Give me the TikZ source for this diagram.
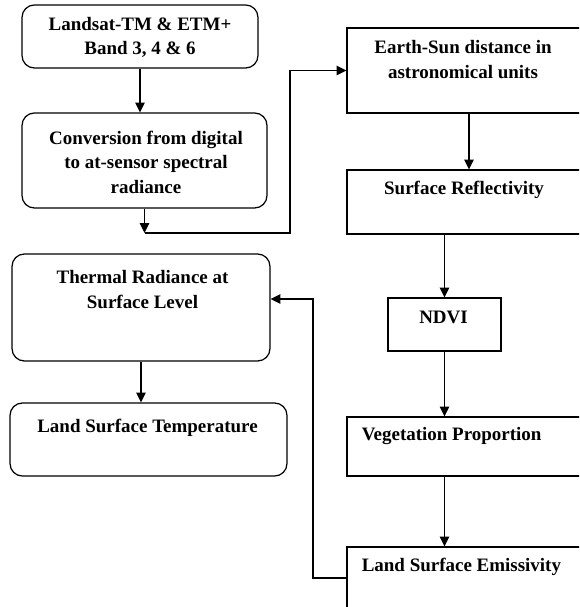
\documentclass[tikz,border=0pt]{standalone}
\usepackage{fontspec}
\setmainfont{Liberation Serif}
\usepackage{tikz}
\usetikzlibrary{arrows.meta, positioning, calc}
\newcommand{\boxfont}{\bfseries\fontsize{10.8}{14.2}\selectfont}

\begin{document}
\begin{tikzpicture}[x=0.02cm, y=-0.02cm,
    >={Triangle[length=5.6pt, width=5.4pt]},
    flowbox/.style={draw, line width=0.7pt, inner sep=0pt},
    roundbox/.style={flowbox, rounded corners=7pt},
    lbl/.style={anchor=center, align=center, font=\boxfont, inner sep=0pt},
    lbll/.style={anchor=west, align=left, font=\boxfont, inner sep=0pt},
    conn/.style={line width=0.65pt, ->}]
    \useasboundingbox (0,0) rectangle (579,607);
    \clip (0,0) rectangle (579,607);

    % left column
    \node[roundbox, minimum width=4.72cm, minimum height=1.26cm,
        label={[lbl, yshift=-0.66cm]north:{Landsat-TM \& ETM+\\Band 3, 4 \& 6}}]
        (land) at (140, 36.5) {};
    \node[roundbox, minimum width=4.9cm, minimum height=1.9cm,
        label={[lbl, yshift=-1.0cm, xshift=0.03cm]north:{Conversion from digital\\to at-sensor spectral\\radiance}}]
        (conv) at (144.5, 160.5) {};
    \node[roundbox, minimum width=5.16cm, minimum height=2.14cm,
        label={[lbl, yshift=-0.72cm, xshift=0.03cm]north:{Thermal Radiance at\\Surface Level}}]
        (therm) at (141, 307.5) {};
    \node[roundbox, minimum width=5.54cm, minimum height=1.46cm,
        label={[lbl, yshift=-0.5cm, xshift=-0.02cm]north:{Land Surface Temperature}}]
        (lst) at (148.5, 439.5) {};

    % right column
    \node[flowbox, minimum width=4.88cm, minimum height=1.7cm,
        label={[lbl, yshift=-0.64cm, xshift=-0.12cm]north:{Earth-Sun distance in\\astronomical units}}]
        (earth) at (469, 70.5) {};
    \node[flowbox, minimum width=4.88cm, minimum height=1.28cm,
        label={[lbl, yshift=-0.4cm, xshift=-0.1cm]north:{Surface Reflectivity}}]
        (refl) at (469, 202) {};
    \node[flowbox, minimum width=2.26cm, minimum height=1.06cm,
        label={[lbl, yshift=-0.4cm, xshift=-0.02cm]north:{NDVI}}]
        (ndvi) at (444.5, 324.5) {};
    \node[flowbox, minimum width=4.88cm, minimum height=1.18cm,
        label={[lbll, yshift=-0.4cm, xshift=0.3cm]north west:{Vegetation Proportion}}]
        (veg) at (469, 446.5) {};
    \node[flowbox, minimum width=4.88cm, minimum height=1.24cm,
        label={[lbll, yshift=-0.4cm, xshift=0.3cm]north west:{Land Surface Emissivity}}]
        (lse) at (469, 578) {};

    \coordinate (cv) at (144.5, 233);
    \coordinate (up) at (290, 233);
    \coordinate (fb) at (313, 299);

    % connectors
    \draw[conn] (land.south) -- (land.south |- conv.north);
    \draw[conn] (conv.south) -- (cv);
    \draw[conn] (cv) -- (up) |- (earth.west);
    \draw[conn] (earth.south) -- (refl.north);
    \draw[conn] (refl.south -| ndvi.north) -- (ndvi.north);
    \draw[conn] (ndvi.south) -- (ndvi.south |- veg.north);
    \draw[conn] (ndvi.south |- veg.south) -- (ndvi.south |- lse.north);
    \draw[conn] (lse.west) -| (fb) -- (fb -| therm.east);
    \draw[conn] (therm.south) -- (therm.south |- lst.north);
\end{tikzpicture}
\end{document}
